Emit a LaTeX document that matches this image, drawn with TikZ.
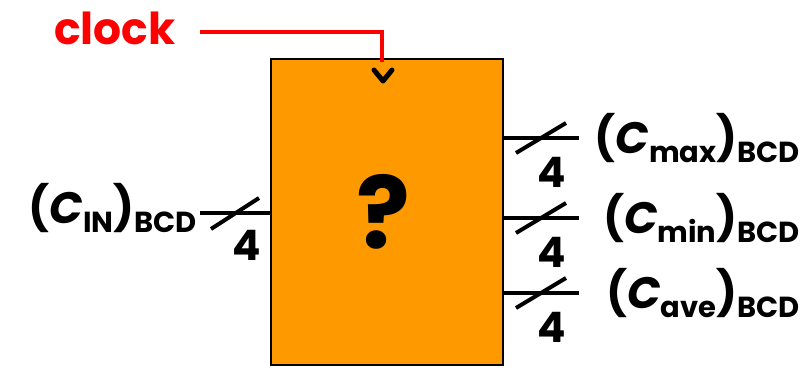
\documentclass[tikz,border=0pt]{standalone}
\usepackage{fontspec}
\setmainfont{Poppins}
\usepackage{tikz}
\usetikzlibrary{calc,positioning}
\definecolor{boxorange}{HTML}{FF9900}
\newcommand{\lowpart}[1]{\raisebox{-9pt}{\fontsize{29}{30}\selectfont #1}}
\newcommand{\bcdname}[1]{({\itshape C}\lowpart{#1})\lowpart{BCD}}
\tikzset{
  bus/.style={line width=4pt},
  clockline/.style={red, line width=4pt},
  sig/.style={font=\fontsize{44}{46}\selectfont\bfseries, inner sep=0pt},
  bits/.style={font=\fontsize{42}{44}\selectfont\bfseries, inner sep=0pt}}

\begin{document}
\begin{tikzpicture}[x=1pt,y=-1pt]
  \useasboundingbox (0,0) rectangle (803,367);
  % the unknown block
  \node[draw, line width=1.5pt, fill=boxorange, minimum width=232pt, minimum height=306pt,
        inner sep=0pt, anchor=north west] (unit) at (270,58) {};
  \node[font=\fontsize{100}{100}\selectfont\bfseries, inner sep=0pt] (qmark) at (383,212) {?};
  % clock
  \node[sig, text=red] (clk) at (115,28) {clock};
  \coordinate (clkpin) at (382,62);
  \draw[clockline] (200,32) -| (clkpin);
  \draw[line width=5pt, line cap=round, line join=round] (374,70) -- (383,81) -- (392,70);
  % input bus
  \node[sig, anchor=east] (cin) at (197,208) {\bcdname{IN}};
  \coordinate (inA) at (200,213);
  \draw[bus] (inA) -- (inA -| unit.west) coordinate[pos=0.5] (inM);
  \draw[bus] ($(inM)+(-24,16)$) -- ($(inM)+(24,-15)$);
  \node[bits] (inw) at ($(inM)+(12,32)$) {4};
  % output buses
  \foreach \y/\s/\lx in {138/max/800, 218/min/800, 293/ave/800} {
    \draw[bus] (unit.east |- 0,\y) -- ++(75,0) coordinate (end\s) coordinate[pos=0.5] (mid\s);
    \draw[bus] ($(mid\s)+(-25,15)$) -- ($(mid\s)+(25,-15)$);
    \node[bits] (w\s) at ($(mid\s)+(11,34)$) {4};
    \node[sig, anchor=east] (out\s) at (\lx,\y) {\bcdname{\s}};
  }
\end{tikzpicture}
\end{document}
